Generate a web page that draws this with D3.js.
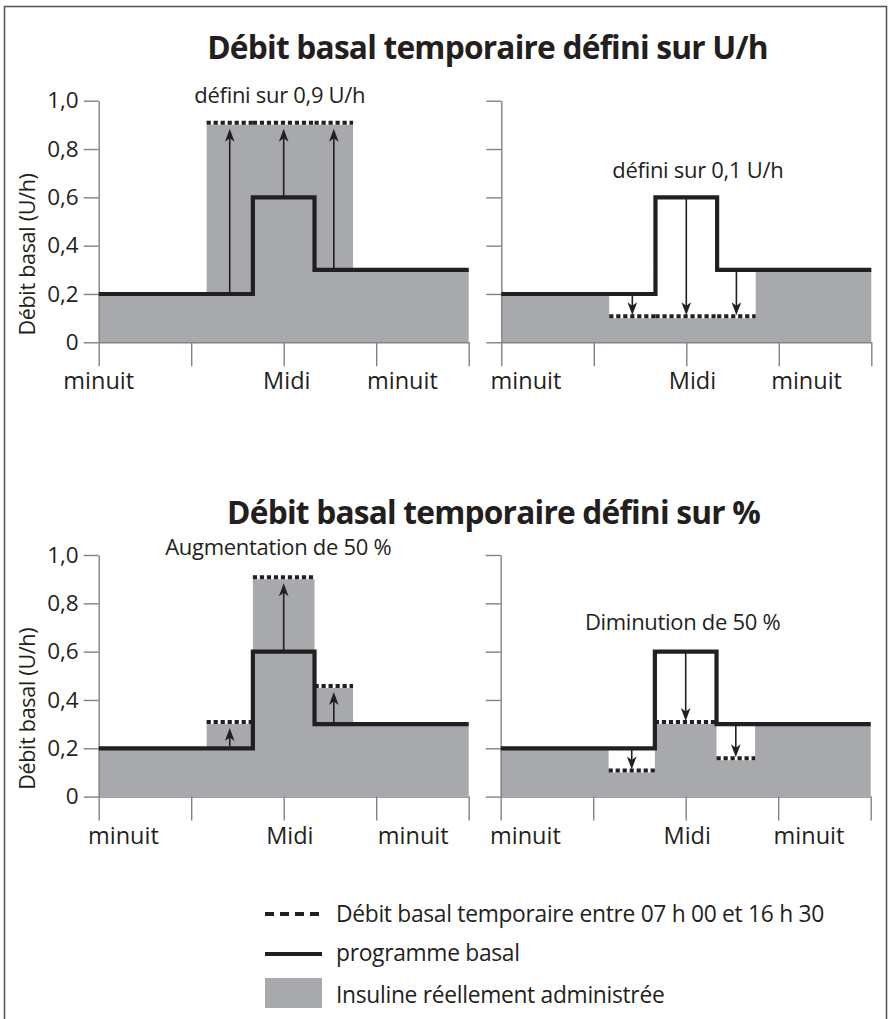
<!DOCTYPE html>
<html lang="fr">
<head>
  <meta charset="UTF-8">
  <title>Débit basal temporaire</title>
  <style>
    body { margin: 0; background: #fff; }
    svg { display: block; font-family: 'Open Sans', sans-serif; }
  </style>
</head>
<body>
  <div class="workspace"></div>
  <script src="https://cdnjs.cloudflare.com/ajax/libs/d3/7.8.5/d3.min.js"></script>
  <script>
    // heures de changement du programme (0 h -> 24 h)
    const breaks = [0, 7, 10, 14, 16.5, 24]
    // valeur de chaque segment entre deux heures
    const basalRate = [0.2, 0.2, 0.6, 0.3, 0.3]
    const tempSetUp = [0.2, 0.9, 0.9, 0.9, 0.3]      // défini sur 0,9 U/h
    const tempSetDown = [0.2, 0.1, 0.1, 0.1, 0.3]    // défini sur 0,1 U/h
    const tempPlus50 = [0.2, 0.3, 0.9, 0.45, 0.3]    // augmentation de 50 %
    const tempMinus50 = [0.2, 0.1, 0.3, 0.15, 0.3]   // diminution de 50 %
    const tempSegments = [1, 2, 3]                   // entre 07 h 00 et 16 h 30

    const yTicks = [0, 0.2, 0.4, 0.6, 0.8, 1.0]
    const xTicks = [0, 6, 12, 18, 24]
    const xLabels = ['minuit', 'Midi', 'minuit']

    const titles = ['Débit basal temporaire défini sur U/h', 'Débit basal temporaire défini sur %']
    const notes = ['défini sur 0,9 U/h', 'défini sur 0,1 U/h', 'Augmentation de 50 %', 'Diminution de 50 %']
    const legendLabels = [
      'Débit basal temporaire entre 07 h 00 et 16 h 30',
      'programme basal',
      'Insuline réellement administrée'
    ]

    const ink = '#231f20'
    const grey = '#a7a9ac'
    const axisGrey = '#808285'

    const W = 891, H = 1019
    const svg = d3.select('.workspace').append('svg')
      .attr('width', W)
      .attr('height', H)

    // cadre
    svg.append('rect')
      .attr('x', 4.5).attr('y', 6.5)
      .attr('width', 882).attr('height', 1030)
      .attr('fill', 'none')
      .attr('stroke', '#58595b')
      .attr('stroke-width', 1.6)

    const pw = 370, ph = 241.6
    const x = d3.scaleLinear().domain([0, 24]).range([0, pw])
    const y = d3.scaleLinear().domain([0, 1]).range([ph, 0])
    const fr = d3.formatLocale({ decimal: ',', thousands: ' ', grouping: [3], currency: ['', ' €'] })
    const fmt = d => d === 0 ? '0' : fr.format('.1f')(d)

    const panels = [
      { left: 98.7, top: 100.7, rates: tempSetUp, note: notes[0], noteAt: [11.75, 0.99], yLabels: true, labelAt: [0, 12.2, 19.7] },
      { left: 501.3, top: 100.7, rates: tempSetDown, note: notes[1], noteAt: [12.75, 0.68], yLabels: false, labelAt: [1.6, 12.4, 19.8] },
      { left: 98.7, top: 555, rates: tempPlus50, note: notes[2], noteAt: [11.65, 1.0], yLabels: true, labelAt: [1.6, 12.4, 20.4] },
      { left: 500.7, top: 555, rates: tempMinus50, note: notes[3], noteAt: [11.8, 0.69], yLabels: false, labelAt: [1.6, 12.1, 20] }
    ]

    // points d'une fonction en escalier
    const steps = vals => breaks.map((b, i) => ({ h: b, v: vals[Math.min(i, vals.length - 1)] }))

    const area = d3.area().curve(d3.curveStepAfter)
      .x(d => x(d.h)).y0(y(0)).y1(d => y(d.v))
    const line = d3.line().curve(d3.curveStepAfter)
      .x(d => x(d.h)).y(d => y(d.v))

    function arrow(g, h, from, to) {
      const dir = to > from ? -1 : 1
      const tipY = y(to) + (dir < 0 ? 4 : -3)
      const cx = x(h)
      g.append('line')
        .attr('x1', cx).attr('x2', cx)
        .attr('y1', y(from)).attr('y2', tipY - dir * 8)
        .attr('stroke', ink).attr('stroke-width', 1.6)
      g.append('path')
        .attr('d', `M${cx},${tipY} L${cx - 4.8},${tipY - dir * 13} L${cx},${tipY - dir * 9.5} L${cx + 4.8},${tipY - dir * 13} Z`)
        .attr('fill', ink)
    }

    panels.forEach(p => {
      const g = svg.append('g').attr('transform', `translate(${p.left},${p.top})`)

      // insuline administrée
      g.append('path')
        .datum(steps(p.rates))
        .attr('d', area)
        .attr('fill', grey)

      // débit temporaire (pointillés)
      tempSegments.forEach(i => {
        g.append('line')
          .attr('x1', x(breaks[i])).attr('x2', x(breaks[i + 1]))
          .attr('y1', y(p.rates[i]) - 2).attr('y2', y(p.rates[i]) - 2)
          .attr('stroke', ink)
          .attr('stroke-width', 4)
          .attr('stroke-dasharray', '4.2,2.8')
      })

      // axes
      const yAxis = d3.axisLeft(y).tickValues(yTicks).tickSize(15).tickSizeOuter(0).tickPadding(5)
        .tickFormat(p.yLabels ? fmt : '')
      const gy = g.append('g').call(yAxis)
      const xAxis = d3.axisBottom(x).tickValues(xTicks).tickSize(24).tickSizeOuter(0).tickFormat('')
      const gx = g.append('g').attr('transform', `translate(0,${ph})`).call(xAxis)
      ;[gx, gy].forEach(a => {
        a.selectAll('path, line').attr('stroke', axisGrey).attr('stroke-width', 1.4)
        a.selectAll('text')
          .attr('fill', ink)
          .style('font-size', '22.5px')
          .style('font-family', "'Open Sans', sans-serif")
      })

      g.selectAll('.xlab')
        .data(xLabels)
        .enter().append('text')
        .attr('class', 'xlab')
        .attr('x', (d, i) => x(p.labelAt[i]))
        .attr('y', ph + 47)
        .attr('text-anchor', 'middle')
        .attr('fill', ink)
        .style('font-size', '23.5px')
        .text(d => d)

      // programme basal
      g.append('path')
        .datum(steps(basalRate))
        .attr('d', line)
        .attr('fill', 'none')
        .attr('stroke', ink)
        .attr('stroke-width', 4.2)
        .attr('stroke-linejoin', 'miter')

      tempSegments.forEach(i => {
        arrow(g, (breaks[i] + breaks[i + 1]) / 2, basalRate[i], p.rates[i])
      })

      g.append('text')
        .attr('x', x(p.noteAt[0]))
        .attr('y', y(p.noteAt[1]))
        .attr('text-anchor', 'middle')
        .attr('fill', ink)
        .style('font-size', '22px')
        .style('letter-spacing', '-0.3px')
        .text(p.note)

      if (p.yLabels) {
        g.append('text')
          .attr('transform', `translate(${27 - p.left},${ph / 2 + 33}) rotate(-90)`)
          .attr('text-anchor', 'middle')
          .attr('dy', '0.35em')
          .attr('fill', ink)
          .style('font-size', '21.5px')
          .style('letter-spacing', '-0.3px')
          .text('Débit basal (U/h)')
      }
    })

    svg.selectAll('.title')
      .data(titles)
      .enter().append('text')
      .attr('class', 'title')
      .attr('x', (d, i) => i === 0 ? 487.5 : 493.5)
      .attr('y', (d, i) => i === 0 ? 59 : 524)
      .attr('text-anchor', 'middle')
      .attr('fill', ink)
      .style('font-size', '31.7px')
      .style('font-weight', 'bold')
      .style('letter-spacing', '-0.8px')
      .text(d => d)

    // légende
    const lg = svg.append('g').attr('transform', 'translate(265,0)')
    lg.append('line')
      .attr('x1', 0).attr('x2', 57).attr('y1', 914).attr('y2', 914)
      .attr('stroke', ink).attr('stroke-width', 4).attr('stroke-dasharray', '9,6')
    lg.append('line')
      .attr('x1', 0).attr('x2', 57).attr('y1', 954).attr('y2', 954)
      .attr('stroke', ink).attr('stroke-width', 4)
    lg.append('rect')
      .attr('x', 0).attr('y', 978).attr('width', 57).attr('height', 30)
      .attr('fill', grey)
    lg.selectAll('.leg')
      .data(legendLabels)
      .enter().append('text')
      .attr('class', 'leg')
      .attr('x', 71)
      .attr('y', (d, i) => [922, 961, 1003][i])
      .attr('fill', ink)
      .style('font-size', '22.8px')
      .style('letter-spacing', '-0.3px')
      .text(d => d)
  </script>
</body>
</html>
